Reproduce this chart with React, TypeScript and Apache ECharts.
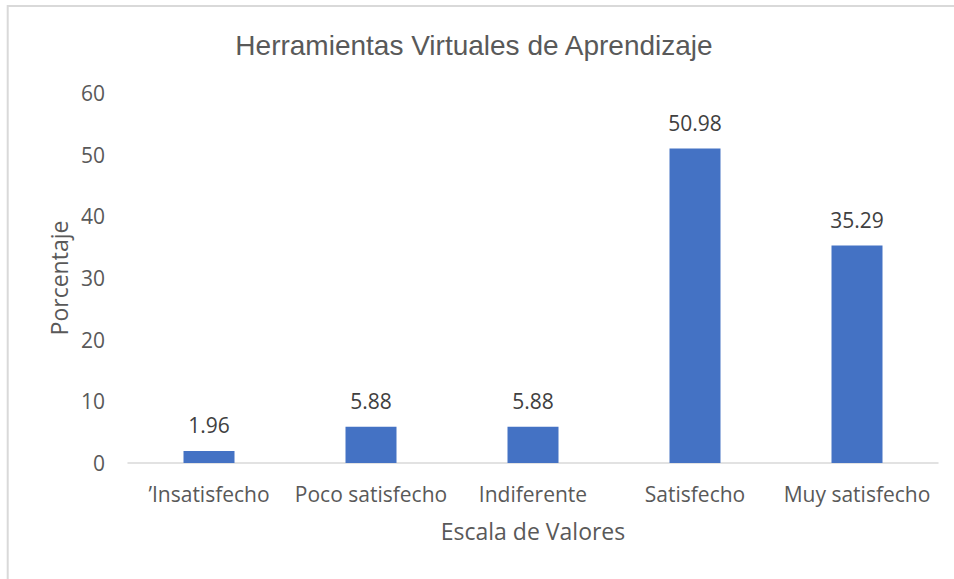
import React, { useEffect, useRef } from "react";
import * as echarts from "echarts";

const titleText = "Herramientas Virtuales de Aprendizaje";
const categories = ["’Insatisfecho", "Poco satisfecho", "Indiferente", "Satisfecho", "Muy satisfecho"];
const values = [1.96, 5.88, 5.88, 50.98, 35.29];
const yAxisName = "Porcentaje";
const xAxisName = "Escala de Valores";
const yMin = 0;
const yMax = 60;
const yInterval = 10;

export default function App() {
  const ref = useRef<HTMLDivElement>(null);
  useEffect(() => {
    if (!ref.current) return;
    const chart = echarts.init(ref.current, undefined, { renderer: "svg" });
    const font = "'Open Sans', sans-serif";
    chart.setOption({
      animation: false,
      backgroundColor: "#ffffff",
      graphic: [
        {
          type: "rect",
          shape: { x: 7.7, y: 6, width: 1000, height: 1000 },
          style: { fill: "none", stroke: "#d9d9d9", lineWidth: 2 },
          silent: true,
        },
        {
          type: "text",
          x: 474,
          y: 45,
          style: {
            text: titleText,
            fontFamily: "'Liberation Sans', Arial, sans-serif",
            fontSize: 28,
            fill: "#595959",
            textAlign: "center",
            textVerticalAlign: "middle",
          },
        },
      ],
      grid: { left: 128, right: 16, top: 93, bottom: 116, containLabel: false },
      xAxis: {
        type: "category",
        data: categories,
        name: xAxisName,
        nameLocation: "middle",
        nameGap: 56,
        nameTextStyle: { fontFamily: font, fontSize: 23, color: "#595959" },
        axisLine: { show: true, lineStyle: { color: "#d9d9d9", width: 1.5 } },
        axisTick: { show: false },
        axisLabel: { fontFamily: font, fontSize: 21, color: "#595959", margin: 20, interval: 0 },
        splitLine: { show: false },
      },
      yAxis: {
        type: "value",
        min: yMin,
        max: yMax,
        interval: yInterval,
        name: yAxisName,
        nameLocation: "middle",
        nameRotate: 90,
        nameGap: 58,
        nameTextStyle: { fontFamily: font, fontSize: 23, color: "#595959" },
        axisLine: { show: false },
        axisTick: { show: false },
        axisLabel: { fontFamily: font, fontSize: 21, color: "#595959", margin: 23 },
        splitLine: { show: false },
      },
      series: [
        {
          type: "bar",
          data: values,
          barWidth: 51,
          itemStyle: { color: "#4472C4" },
          label: {
            show: true,
            position: "top",
            distance: 15,
            fontFamily: font,
            fontSize: 21,
            color: "#404040",
            formatter: (p: any) => p.value.toFixed(2),
          },
        },
      ],
    });
    return () => chart.dispose();
  }, []);
  return (
    <div
      ref={ref}
      style={{ position: "fixed", left: 0, top: 0, width: 954, height: 579 }}
    />
  );
}
